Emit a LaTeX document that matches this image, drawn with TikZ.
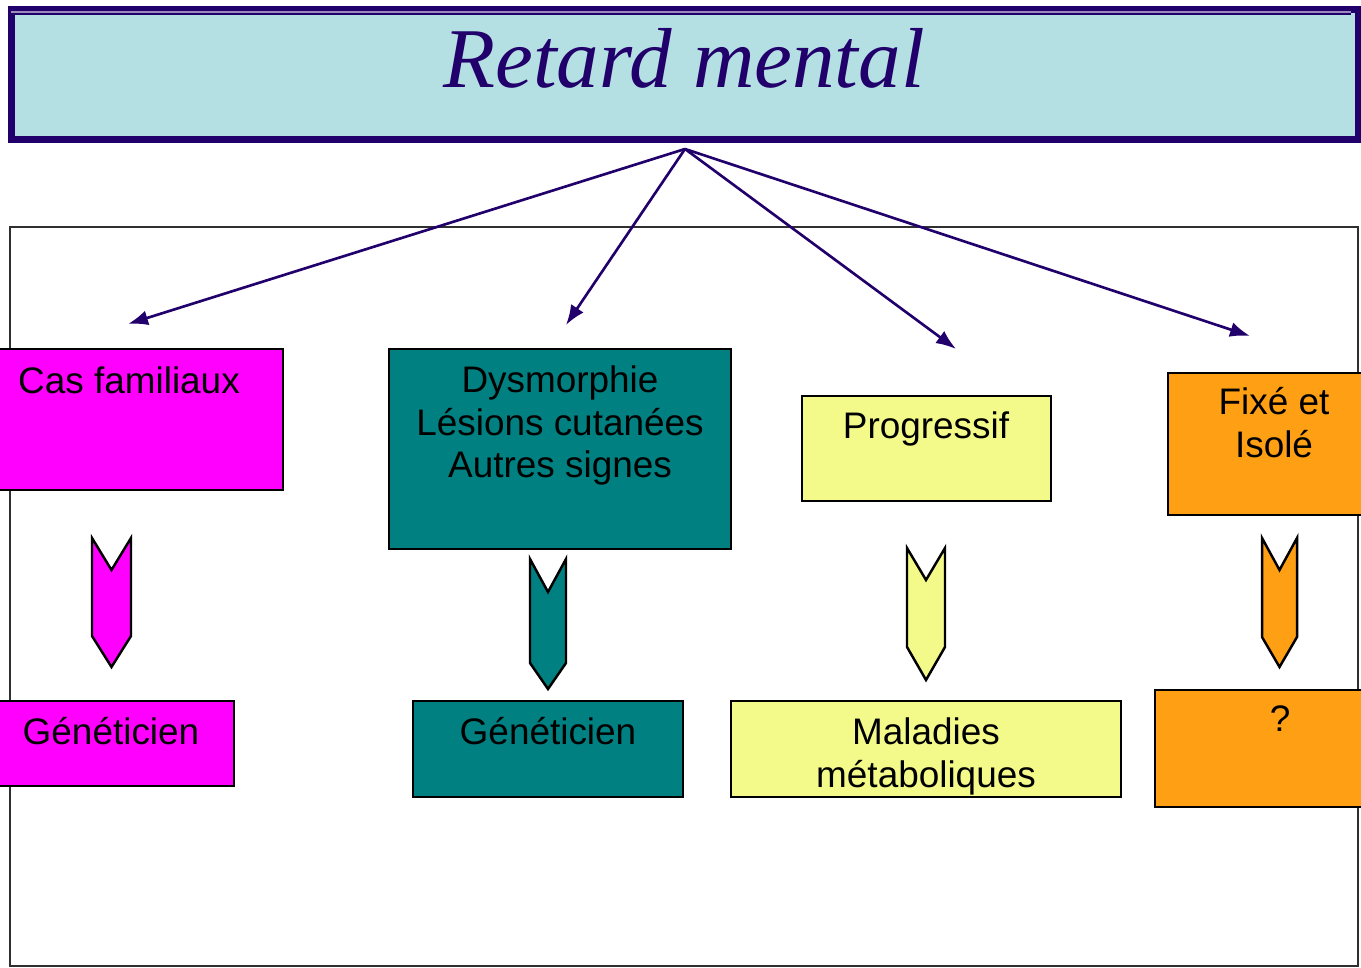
\documentclass[tikz,border=0pt]{standalone}
\usepackage{fontspec}
\setmainfont{Liberation Sans}
\newfontfamily\titlefont{Liberation Serif}
\usetikzlibrary{arrows.meta}

\definecolor{ink}{HTML}{21006B}
\definecolor{titlefill}{HTML}{B4E0E3}
\definecolor{magentabox}{HTML}{FF00FF}
\definecolor{tealbox}{HTML}{008080}
\definecolor{yellowbox}{HTML}{F4FA8A}
\definecolor{orangebox}{HTML}{FF9F14}
\definecolor{framegray}{HTML}{303030}

% stacked, centred lines whose base is the first line's baseline
\newcommand\stack[1]{\begin{tabular}[t]{@{}c@{}}#1\end{tabular}}

% downward chevron: colour, left x, right x, top y, notch y, body end y, tip y
\newcommand\chevron[7]{%
  \draw[chev, fill=#1] (#2,#4) -- ({(#2+#3)/2},#5) -- (#3,#4) -- (#3,#6)
    -- ({(#2+#3)/2},#7) -- (#2,#6) -- cycle;}

\begin{document}
\begin{tikzpicture}[x=0.01cm, y=-0.01cm,
  box/.style={draw=black, line width=0.7pt, anchor=north west, inner sep=0pt, outer sep=0pt},
  label text/.style={anchor=base, inner sep=0pt, align=center,
    font=\fontsize{10.5}{11.95}\selectfont},
  conn/.style={draw=ink, line width=0.75pt, -{Latex[length=0.2cm, width=0.15cm]}},
  chev/.style={draw=black, line width=0.7pt, line join=miter},
  panel/.style={draw=framegray, line width=0.6pt}]

\useasboundingbox (0,0) rectangle (1361,968);
\clip (0,0) rectangle (1361,968);

% title banner
\node[draw=ink, fill=titlefill, line width=0.07cm, anchor=north west,
  minimum width=13.47cm, minimum height=1.29cm, inner sep=0pt] (titlebox) at (7.5,6.5) {};
\draw[ink, line width=0.02cm] (11,14.5) -- (1351,14.5);
\draw[ink!45!white, line width=0.015cm] (11,12) -- (1351,12);
\node[anchor=base, inner sep=0pt, text=ink,
  font=\titlefont\itshape\fontsize{24.2}{28}\selectfont] (title) at (684,88) {Retard mental};

% frame around the classification
\draw[panel] (10,227) rectangle (1358,966);

% branching arrows
\coordinate (apex) at (685,149);
\coordinate (t1) at (128,324);
\coordinate (t2) at (566,325);
\coordinate (t3) at (956,349);
\coordinate (t4) at (1250,336);
\draw[conn] (apex) -- (t1);
\draw[conn] (apex) -- (t2);
\draw[conn] (apex) -- (t3);
\draw[conn] (apex) -- (t4);

% first row of boxes
\node[box, fill=magentabox, minimum width=2.93cm, minimum height=1.41cm] (cas) at (-10,349) {};
\node[label text] (castext) at (129,394) {Cas familiaux};

\node[box, fill=tealbox, minimum width=3.42cm, minimum height=2.00cm] (dys) at (389,349) {};
\node[label text] (dystext) at (560,393) {\stack{Dysmorphie\\Lésions cutanées\\Autres signes}};

\node[box, fill=yellowbox, minimum width=2.49cm, minimum height=1.05cm] (prog) at (802,396) {};
\node[label text] (progtext) at (926,439) {Progressif};

\node[box, fill=orangebox, minimum width=2.10cm, minimum height=1.42cm] (fixe) at (1168,373) {};
\node[label text] (fixetext) at (1274,415) {\stack{Fixé et\\Isolé}};

% chevrons
\chevron{magentabox}{92}{131}{538}{570}{636}{667}
\chevron{tealbox}{530}{566}{559}{592}{663}{689}
\chevron{yellowbox}{907}{945}{548}{580}{647}{680}
\chevron{orangebox}{1262}{1297}{538}{570}{637}{667}

% second row of boxes
\node[box, fill=magentabox, minimum width=2.44cm, minimum height=0.85cm] (gen1) at (-10,701) {};
\node[label text] (gen1text) at (111,745) {Généticien};

\node[box, fill=tealbox, minimum width=2.70cm, minimum height=0.96cm] (gen2) at (413,701) {};
\node[label text] (gen2text) at (548,745) {Généticien};

\node[box, fill=yellowbox, minimum width=3.90cm, minimum height=0.96cm] (mal) at (731,701) {};
\node[label text] (maltext) at (926,745) {\stack{Maladies\\métaboliques}};

\node[box, fill=orangebox, minimum width=2.30cm, minimum height=1.17cm] (unk) at (1155,690) {};
\node[label text] (unktext) at (1280,732) {?};

\end{tikzpicture}
\end{document}
